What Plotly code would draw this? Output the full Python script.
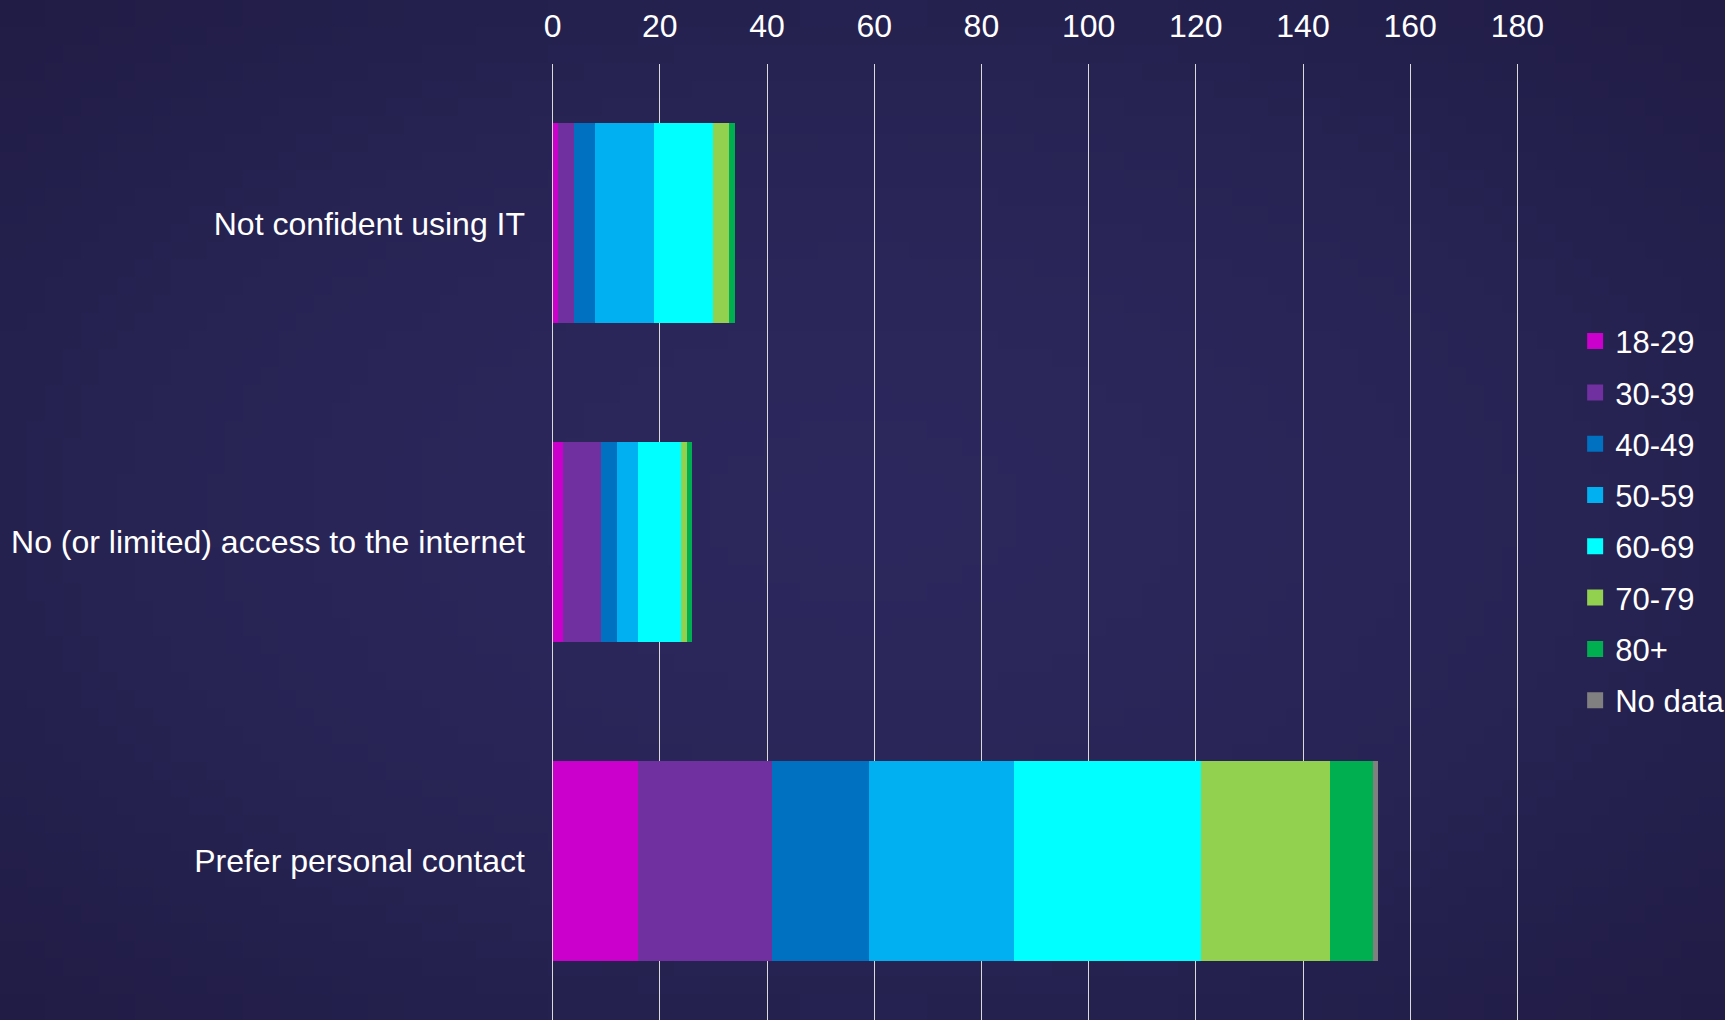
import base64
import struct
import zlib

import plotly.graph_objects as go

categories = ["Not confident using IT", "No (or limited) access to the internet", "Prefer personal contact"]
age_groups = ["18-29", "30-39", "40-49", "50-59", "60-69", "70-79", "80+", "No data"]
colors = ["#CC00CC", "#7030A0", "#0070C0", "#00B0F0", "#00FFFF", "#92D050", "#00B050", "#808080"]

v_18_29 = [1, 2, 16]
v_30_39 = [3, 7, 25]
v_40_49 = [4, 3, 18]
v_50_59 = [11, 4, 27]
v_60_69 = [11, 8, 35]
v_70_79 = [3, 1, 24]
v_80_plus = [1, 1, 8]
v_no_data = [0, 0, 1]

series = [v_18_29, v_30_39, v_40_49, v_50_59, v_60_69, v_70_79, v_80_plus, v_no_data]
x_ticks = list(range(0, 181, 20))

FONT = "Liberation Sans, Arial, sans-serif"
W, H = 1725, 1020
ML, MR, MT, MB = 551, 206, 64, 0


def vignette_png(w=96, h=57, center=(44, 40, 93), edge=(32, 28, 69)):
    rows = []
    for j in range(h):
        row = bytearray([0])
        for i in range(w):
            dx = (i + 0.5) / w - 0.5
            dy = (j + 0.5) / h - 0.5
            r = min(1.0, ((dx / 0.5) ** 2 + (dy / 0.5) ** 2) ** 0.5 / 1.414)
            t = r ** 1.6
            row += bytes(int(round(c + (e - c) * t)) for c, e in zip(center, edge))
        rows.append(bytes(row))
    raw = b"".join(rows)

    def chunk(tag, data):
        c = struct.pack(">I", len(data)) + tag + data
        return c + struct.pack(">I", zlib.crc32(tag + data) & 0xFFFFFFFF)

    png = b"\x89PNG\r\n\x1a\n"
    png += chunk(b"IHDR", struct.pack(">IIBBBBB", w, h, 8, 2, 0, 0, 0))
    png += chunk(b"IDAT", zlib.compress(raw, 9))
    png += chunk(b"IEND", b"")
    return "data:image/png;base64," + base64.b64encode(png).decode()


fig = go.Figure()
for name, vals, col in zip(age_groups, series, colors):
    fig.add_trace(go.Bar(
        y=categories, x=vals, name=name, orientation="h",
        marker=dict(color=col, line=dict(width=0)),
        legendgroup=name, showlegend=False,
    ))
for name, col in zip(age_groups, colors):
    fig.add_trace(go.Scatter(
        x=[None], y=[categories[0]], mode="markers", name=name,
        marker=dict(symbol="square", size=16, color=col, line=dict(width=0)),
        legendgroup=name, showlegend=True, hoverinfo="skip",
    ))

pw = W - ML - MR
ph = H - MT - MB
fig.add_layout_image(dict(
    source=vignette_png(), xref="paper", yref="paper",
    x=-ML / pw, y=1 + MT / ph, sizex=W / pw, sizey=H / ph,
    xanchor="left", yanchor="top", sizing="stretch", layer="below",
))

fig.update_layout(
    width=W, height=H,
    barmode="stack",
    bargap=0.373,
    paper_bgcolor="#2a265a",
    plot_bgcolor="rgba(0,0,0,0)",
    margin=dict(l=ML, r=MR, t=MT, b=MB, autoexpand=False),
    font=dict(family=FONT, size=32, color="white"),
    showlegend=True,
    legend=dict(
        x=1.058, xanchor="left", y=0.522, yanchor="middle",
        traceorder="grouped", tracegroupgap=8,
        font=dict(family=FONT, size=31, color="white"),
        bgcolor="rgba(0,0,0,0)",
    ),
    xaxis=dict(
        side="top", range=[-0.3, 180.3], tickvals=x_ticks,
        showgrid=True, gridcolor="#d9d9d9", gridwidth=1.3,
        zeroline=False, showline=False, ticks="",
        ticklabelstandoff=20,
        tickfont=dict(family=FONT, size=32, color="white"),
        fixedrange=True,
    ),
    yaxis=dict(
        autorange="reversed", showgrid=False, zeroline=False, showline=False,
        ticks="", ticklabelstandoff=25,
        tickfont=dict(family=FONT, size=32, color="white"),
    ),
)

fig.write_html("out.html")
